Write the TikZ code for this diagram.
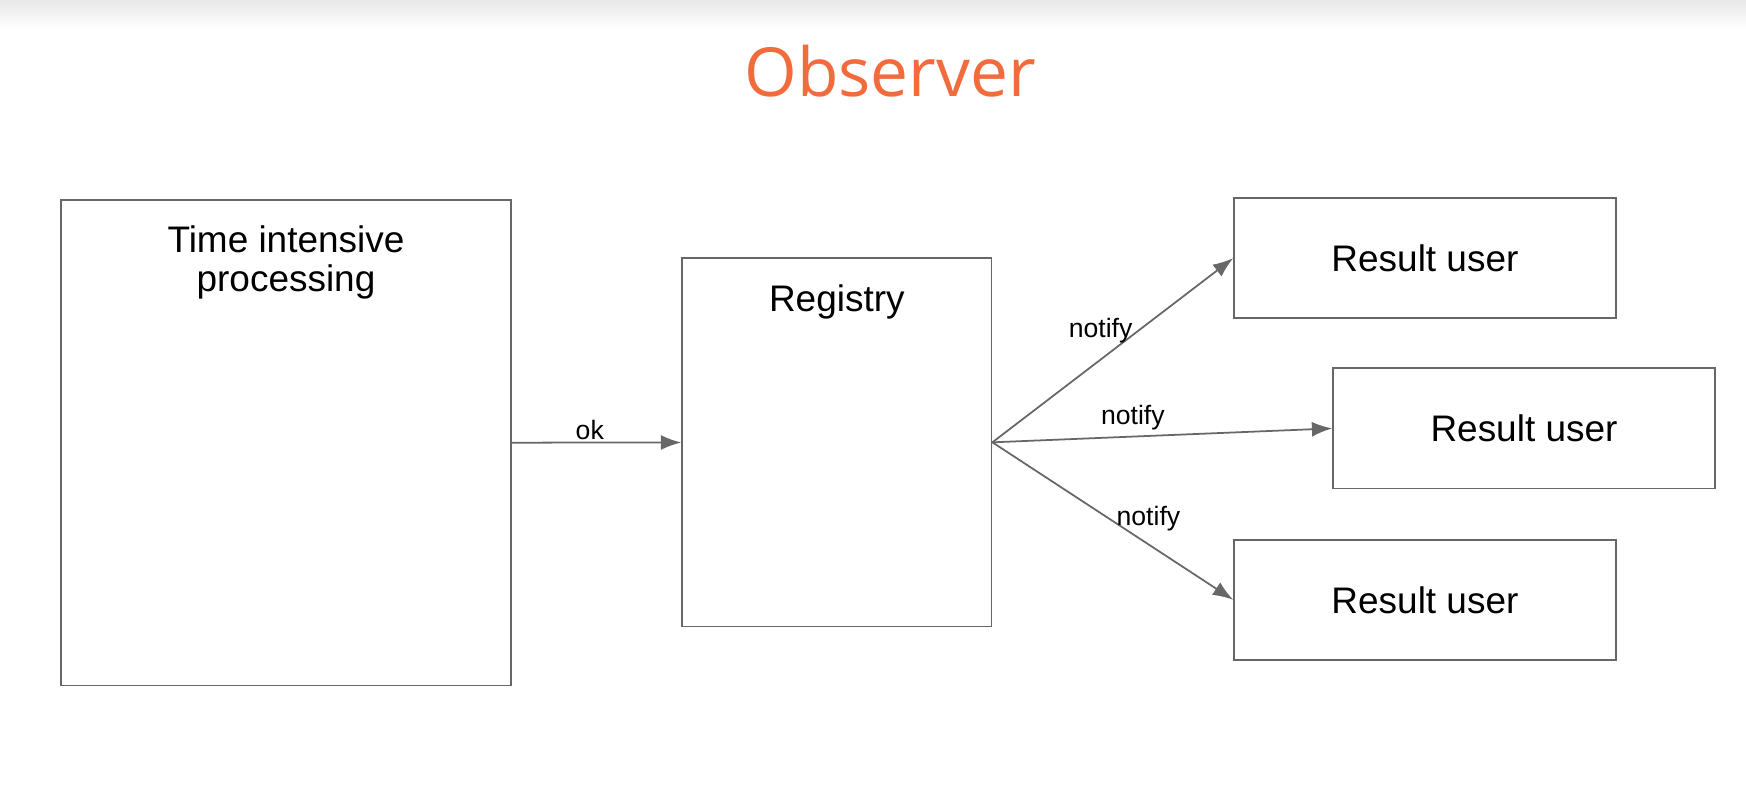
\documentclass[tikz,border=0pt]{standalone}
\usepackage{fontspec}
\setmainfont{Liberation Sans}
\newfontfamily\titlefont{Open Sans}
\usetikzlibrary{arrows.meta, positioning}
\definecolor{obs_orange}{HTML}{F26B3D}
\definecolor{line_gray}{HTML}{676767}
\colorlet{obsorange}{obs_orange}
\tikzset{
  block/.style={rectangle,draw=line_gray,line width=0.45pt,inner sep=0pt},
  caption/.style={anchor=north,align=center,inner sep=0pt,font=\fontsize{9.45}{10}\selectfont},
  user/.style={block,minimum width=3.43cm,minimum height=1.08cm,font=\fontsize{9.45}{11}\selectfont},
  relation/.style={-{Latex[length=5.2pt,width=3.8pt]},line_gray,line width=0.45pt,text=black,font=\fontsize{6.8}{8}\selectfont},
}

\begin{document}
\begin{tikzpicture}
	    \useasboundingbox (0,0) rectangle (15.69,7.16);
	    \shade[top color=black!9,bottom color=white] (0,6.9) rectangle (15.69,7.16);
	    \node[anchor=base,text=obsorange,font=\titlefont\fontsize{17.3}{20}\selectfont] (T) at (8.00,6.29) {Observer};
	    \node[block,minimum width=4.04cm,minimum height=4.36cm,
	    	label={[caption,yshift=-0.23cm]north:{Time intensive\\processing}}] (P) at (2.57,3.18) {};
	    \node[block,minimum width=2.78cm,minimum height=3.31cm,
	    	label={[caption,yshift=-0.24cm]north:Registry}] (R) at (7.52,3.185) {};
	    \node[user] (U1) at (12.805,4.84) {Result user};
	    \node[user] (U2) at (13.695,3.31) {Result user};
	    \node[user] (U3) at (12.805,1.77) {Result user};
	    \draw[relation] (P) -- node[midway,xshift=-0.06cm,yshift=0.11cm] {ok} (R);
	    \draw[relation] (R.east) -- node[midway,xshift=-0.11cm,yshift=0.175cm] {notify} (U1.west);
	    \draw[relation] (R.east) -- node[midway,xshift=-0.265cm,yshift=0.16cm] {notify} (U2.west);
	    \draw[relation] (R.east) -- node[midway,xshift=0.32cm,yshift=0.025cm] {notify} (U3.west);
	\end{tikzpicture}
\end{document}
